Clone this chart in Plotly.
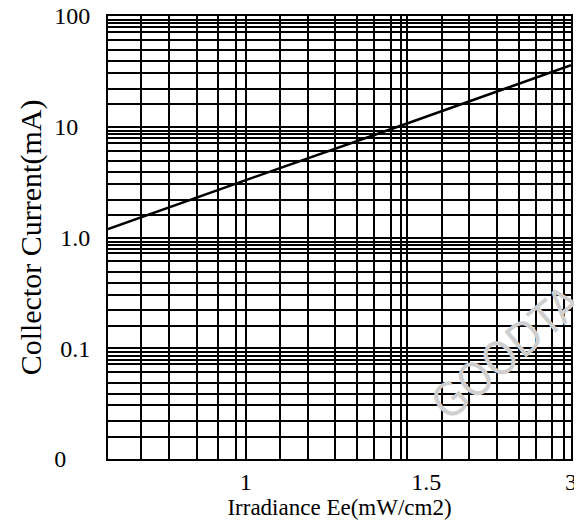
import plotly.graph_objects as go

# ---- data ----
# x axis units: position along the printed scale (tick labels below map to it)
line_x = [0.152, 1.0, 2.0, 3.0]
line_y = [1.19, 3.3, 10.8, 36.0]          # collector current (mA)

x_tick_vals = [1.0, 2.109, 3.0]
x_tick_text = ["1", "1.5", "3"]

y_tick_vals = [0.01, 0.1, 1, 10, 100]
y_tick_text = ["0\u00a0\u00a0\u00a0\u00a0", "0.1", "1.0", "10\u00a0\u00a0", "100"]

x_grid = [0.358, 0.528, 0.700, 0.829, 0.937, 1.0,
          1.209, 1.380, 1.548, 1.686, 1.788, 1.891, 1.955, 1.994,
          2.205, 2.374, 2.544, 2.682, 2.784, 2.882, 2.954]
decades = [0.01, 0.1, 1, 10]
multiples = [1.59, 2.2, 3.05, 3.9, 4.9, 6.1, 7.2, 7.9, 8.6, 9.2]
y_grid = [d * m for d in decades for m in [1] + multiples] + [100]

FONT = "Liberation Serif, DejaVu Serif, serif"

fig = go.Figure()
fig.add_trace(go.Scatter(x=line_x, y=line_y, mode="lines",
                         line=dict(color="black", width=2.5),
                         showlegend=False, hoverinfo="skip"))

fig.update_layout(
    width=574, height=518,
    margin=dict(l=100, r=11, t=8, b=67),
    paper_bgcolor="white", plot_bgcolor="white",
    font=dict(family=FONT, color="black"),
    xaxis=dict(
        range=[0.152, 3.0], showgrid=False, zeroline=False, automargin=False,
        tickmode="array", tickvals=x_tick_vals, ticktext=x_tick_text,
        tickfont=dict(size=24, family=FONT), ticks="",
        ticklabeloverflow="allow",
        showline=True, mirror=True, linecolor="black", linewidth=2,
        minor=dict(tickmode="array", tickvals=x_grid, showgrid=True,
                   gridcolor="black", gridwidth=2, ticks=""),
        title=dict(text="Irradiance Ee(mW/cm2)", font=dict(size=23, family=FONT),
                   standoff=0),
    ),
    yaxis=dict(
        type="log", range=[-2, 2], showgrid=True, gridcolor="black", gridwidth=2,
        zeroline=False, automargin=False,
        tickmode="array", tickvals=y_tick_vals, ticktext=y_tick_text,
        tickfont=dict(size=24, family=FONT), ticks="", ticklabelstandoff=11,
        ticklabeloverflow="allow",
        showline=True, mirror=True, linecolor="black", linewidth=2,
        minor=dict(tickmode="array", tickvals=y_grid, showgrid=True,
                   gridcolor="black", gridwidth=2, ticks=""),
        title=dict(text="Collector Current(mA)", font=dict(size=30, family=FONT),
                   standoff=4),
    ),
    annotations=[dict(
        text="GOODTA", xref="paper", yref="paper", x=0.86, y=0.24,
        xanchor="center", yanchor="middle",
        showarrow=False, textangle=-40,
        font=dict(size=46, color="#cfcfcf",
                  family="Liberation Sans Narrow, DejaVu Sans Condensed, Liberation Sans, sans-serif"),
    )],
)

fig.write_html("out.html")
